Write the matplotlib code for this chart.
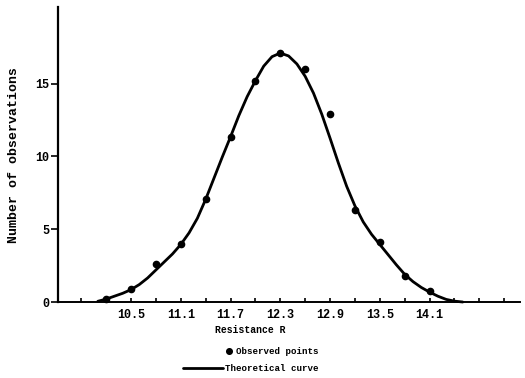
import numpy as np
import matplotlib.pyplot as plt
from matplotlib.ticker import FixedLocator

plt.rcParams['font.family'] = ['Liberation Mono', 'DejaVu Sans Mono']
plt.rcParams['font.weight'] = 'bold'

# observed counts at each resistance step
obs_x = [10.2, 10.5, 10.8, 11.1, 11.4, 11.7, 12.0, 12.3, 12.6, 12.9, 13.2, 13.5, 13.8, 14.1]
obs_y = [0.2, 0.9, 2.6, 4.0, 7.1, 11.3, 15.2, 17.1, 16.0, 12.9, 6.3, 4.1, 1.8, 0.75]

# theoretical curve, read at 0.1 steps
curve_x = [10.1, 10.2, 10.3, 10.4, 10.5, 10.6, 10.7, 10.8, 10.9, 11.0,
           11.1, 11.2, 11.3, 11.4, 11.5, 11.6, 11.7, 11.8, 11.9, 12.0,
           12.1, 12.2, 12.3, 12.4, 12.5, 12.6, 12.7, 12.8, 12.9, 13.0,
           13.1, 13.2, 13.3, 13.4, 13.5, 13.6, 13.7, 13.8, 13.9, 14.0,
           14.1, 14.2, 14.3, 14.4, 14.5]
curve_y = [0.05, 0.2, 0.4, 0.6, 0.85, 1.2, 1.65, 2.2, 2.75, 3.3,
           3.95, 4.75, 5.75, 7.05, 8.5, 9.95, 11.35, 12.8, 14.1, 15.2,
           16.2, 16.85, 17.1, 16.9, 16.35, 15.5, 14.35, 12.9, 11.25, 9.55,
           7.95, 6.6, 5.5, 4.65, 3.95, 3.25, 2.55, 1.9, 1.4, 1.0,
           0.68, 0.4, 0.18, 0.06, 0.0]

xtick_vals = [10.5, 11.1, 11.7, 12.3, 12.9, 13.5, 14.1]
xtick_labels = ['10.5', '11.1', '11.7', '12.3', '12.9', '13.5', '14.1']
xminor_vals = [9.9, 10.2, 10.8, 11.4, 12.0, 12.6, 13.2, 13.8, 14.4, 14.7, 15.0]
ytick_vals = [0, 5, 10, 15]

fig = plt.figure(figsize=(5.25, 3.78), dpi=100)
ax = fig.add_axes([0.1105, 0.201, 0.88, 0.780])

pts, = ax.plot(obs_x, obs_y, 'o', color='black', markersize=4.5, clip_on=False)
crv, = ax.plot(curve_x, curve_y, '-', color='black', linewidth=2.0,
               solid_capstyle='round', solid_joinstyle='round', clip_on=False)

ax.set_xlim(9.62, 15.19)
ax.set_ylim(0, 20.25)

for side in ['top', 'right']:
    ax.spines[side].set_visible(False)
ax.spines['left'].set_linewidth(1.6)
ax.spines['bottom'].set_linewidth(1.4)

ax.set_xticks(xtick_vals)
ax.set_xticklabels(xtick_labels, fontsize=8.5, fontweight='bold')
ax.xaxis.set_minor_locator(FixedLocator(xminor_vals))
ax.tick_params(axis='x', which='both', direction='in', length=3, width=1.2, pad=5)

ax.set_yticks(ytick_vals)
ax.set_yticklabels([str(v) for v in ytick_vals], fontsize=8.5, fontweight='bold')
ax.tick_params(axis='y', direction='out', length=5, width=1.2, pad=1)

ax.set_ylabel('Number of observations', fontsize=9.5, fontweight='bold')
ax.yaxis.set_label_coords(-0.082, 0.5)
ax.set_xlabel('Resistance R', fontsize=7, fontweight='bold')
ax.xaxis.set_label_coords(0.416, -0.078)

leg1 = ax.legend([pts], ['Observed points'], loc='center left',
                 bbox_to_anchor=(0.429, 0.069), bbox_transform=fig.transFigure,
                 frameon=False, fontsize=6.6, handlelength=0.8, handletextpad=0.4,
                 borderpad=0, borderaxespad=0, numpoints=1, markerscale=0.9)
ax.add_artist(leg1)
ax.legend([crv], ['Theoretical curve'], loc='center left',
          bbox_to_anchor=(0.349, 0.024), bbox_transform=fig.transFigure,
          frameon=False, fontsize=6.6, handlelength=4.3, handletextpad=0.22,
          borderpad=0, borderaxespad=0)

fig.savefig('out.png', dpi=100)
